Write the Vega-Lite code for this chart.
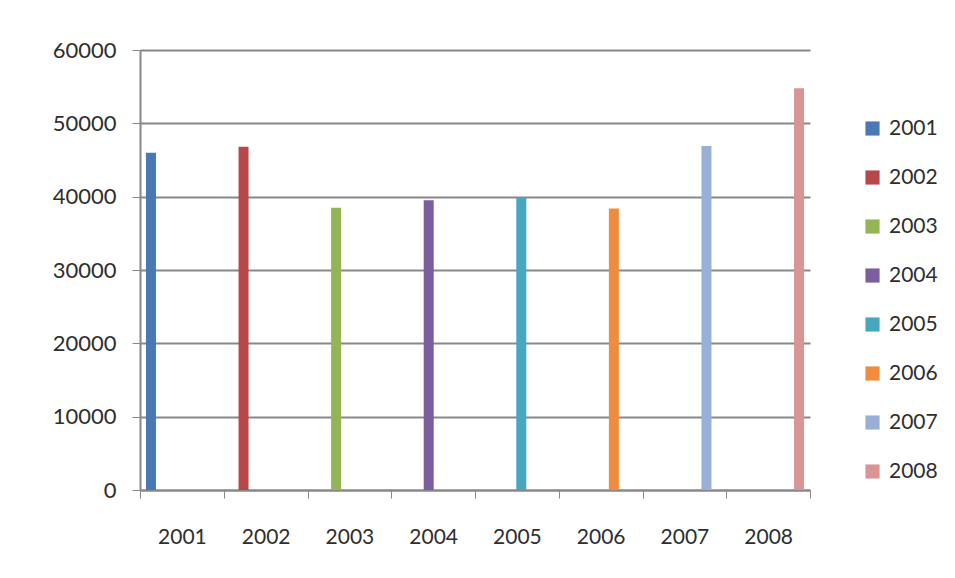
{
  "$schema": "https://vega.github.io/schema/vega-lite/v6.json",
  "autosize": "none",
  "width": 670,
  "height": 440,
  "padding": {"left": 140, "top": 50, "right": 145, "bottom": 88},
  "background": "white",
  "config": {
    "font": "Lato",
    "view": {"stroke": null}
  },
  "data": {
    "values": [
      {"year": "2001", "value": 46000},
      {"year": "2002", "value": 46800},
      {"year": "2003", "value": 38500},
      {"year": "2004", "value": 39500},
      {"year": "2005", "value": 39900},
      {"year": "2006", "value": 38400},
      {"year": "2007", "value": 46900},
      {"year": "2008", "value": 54800}
    ]
  },
  "mark": {"type": "bar", "width": 10},
  "encoding": {
    "x": {
      "field": "year",
      "type": "nominal",
      "scale": {"paddingInner": 0, "paddingOuter": 0},
      "axis": {
        "title": null,
        "labelAngle": 0,
        "labelFontSize": 21,
        "labelColor": "#2e2e2e",
        "labelPadding": 28,
        "tickBand": "extent",
        "tickSize": 8,
        "tickColor": "#888888",
        "domainColor": "#888888",
        "domainWidth": 2,
        "grid": false
      }
    },
    "xOffset": {
      "field": "year",
      "type": "nominal",
      "scale": {"paddingInner": 0, "paddingOuter": 0.74}
    },
    "y": {
      "field": "value",
      "type": "quantitative",
      "scale": {"domain": [0, 60000]},
      "axis": {
        "title": null,
        "values": [0, 10000, 20000, 30000, 40000, 50000, 60000],
        "labelFontSize": 22,
        "labelColor": "#2e2e2e",
        "labelPadding": 16,
        "tickSize": 8,
        "tickColor": "#888888",
        "domainColor": "#888888",
        "domainWidth": 2,
        "gridColor": "#888888",
        "gridWidth": 2,
        "format": "d"
      }
    },
    "color": {
      "field": "year",
      "type": "nominal",
      "scale": {
        "domain": ["2001", "2002", "2003", "2004", "2005", "2006", "2007", "2008"],
        "range": ["#4a78b5", "#b8474a", "#93b556", "#7a5e9e", "#47a7bf", "#f08c3e", "#98b0d8", "#d99595"]
      },
      "legend": {
        "title": null,
        "orient": "none",
        "legendX": 722,
        "legendY": 68,
        "symbolType": "square",
        "symbolSize": 200,
        "symbolStrokeWidth": 0,
        "labelFontSize": 21,
        "labelColor": "#2e2e2e",
        "rowPadding": 27,
        "labelOffset": 6
      }
    }
  }
}
